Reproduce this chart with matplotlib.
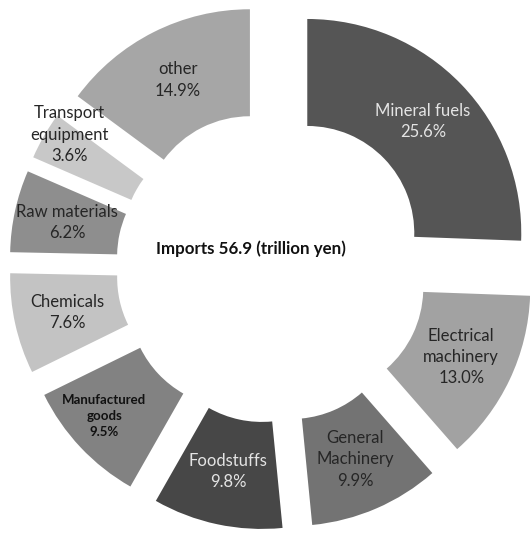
import numpy as np
from matplotlib import pyplot as plt

# import shares by commodity group, clockwise from 12 o'clock
categories = ["Mineral fuels", "Electrical\nmachinery", "General\nMachinery",
              "Foodstuffs", "Manufactured\ngoods", "Chemicals",
              "Raw materials", "Transport\nequipment", "other"]
shares = [25.6, 13.0, 9.9, 9.8, 9.5, 7.6, 6.2, 3.6, 14.9]
center_label = "Imports 56.9 (trillion yen)"

colors = ["#555555", "#a2a2a2", "#737373", "#474747", "#828282",
          "#c3c3c3", "#8e8e8e", "#c8c8c8", "#a6a6a6"]
text_colors = ["#e4e4e4", "#262626", "#262626", "#e4e4e4", "#111111",
               "#262626", "#262626", "#262626", "#262626"]
# labels nudged off the ring centre (points)
label_nudge = {7: (-15, 20), 4: (-11, -4)}

plt.rcParams["font.family"] = ["Lato", "DejaVu Sans"]

fig = plt.figure(figsize=(5.3, 5.35), dpi=100)
ax = fig.add_axes([0, 0, 1, 1])

wedges, _ = ax.pie(shares, colors=colors, startangle=90, counterclock=False,
                   explode=[0.229] * len(shares), radius=1.0,
                   wedgeprops=dict(width=0.5, linewidth=0))

for i, w in enumerate(wedges):
    mid = np.deg2rad((w.theta1 + w.theta2) / 2)
    rmid = w.r - w.width / 2
    cx, cy = w.center
    x, y = cx + rmid * np.cos(mid), cy + rmid * np.sin(mid)
    txt = f"{categories[i]}\n{shares[i]:.1f}%"
    dx, dy = label_nudge.get(i, (0, 0))
    small = i == 4
    ax.annotate(txt, (x, y), xytext=(dx, dy), textcoords="offset points",
                ha="center", va="center", color=text_colors[i],
                fontsize=9.5 if small else 12,
                fontweight="bold" if small else "normal",
                linespacing=1.4)

ax.text(-0.10, 0.085, center_label, ha="center", va="center",
        fontsize=12.2, fontweight="bold", color="#111111")

# 214 px per unit, ring centre at pixel (272, 267)
ax.set_xlim(-272 / 214, (530 - 272) / 214)
ax.set_ylim(-(535 - 267) / 214, 267 / 214)
ax.set_aspect("auto")
ax.axis("off")

fig.savefig("out.png", dpi=100)
